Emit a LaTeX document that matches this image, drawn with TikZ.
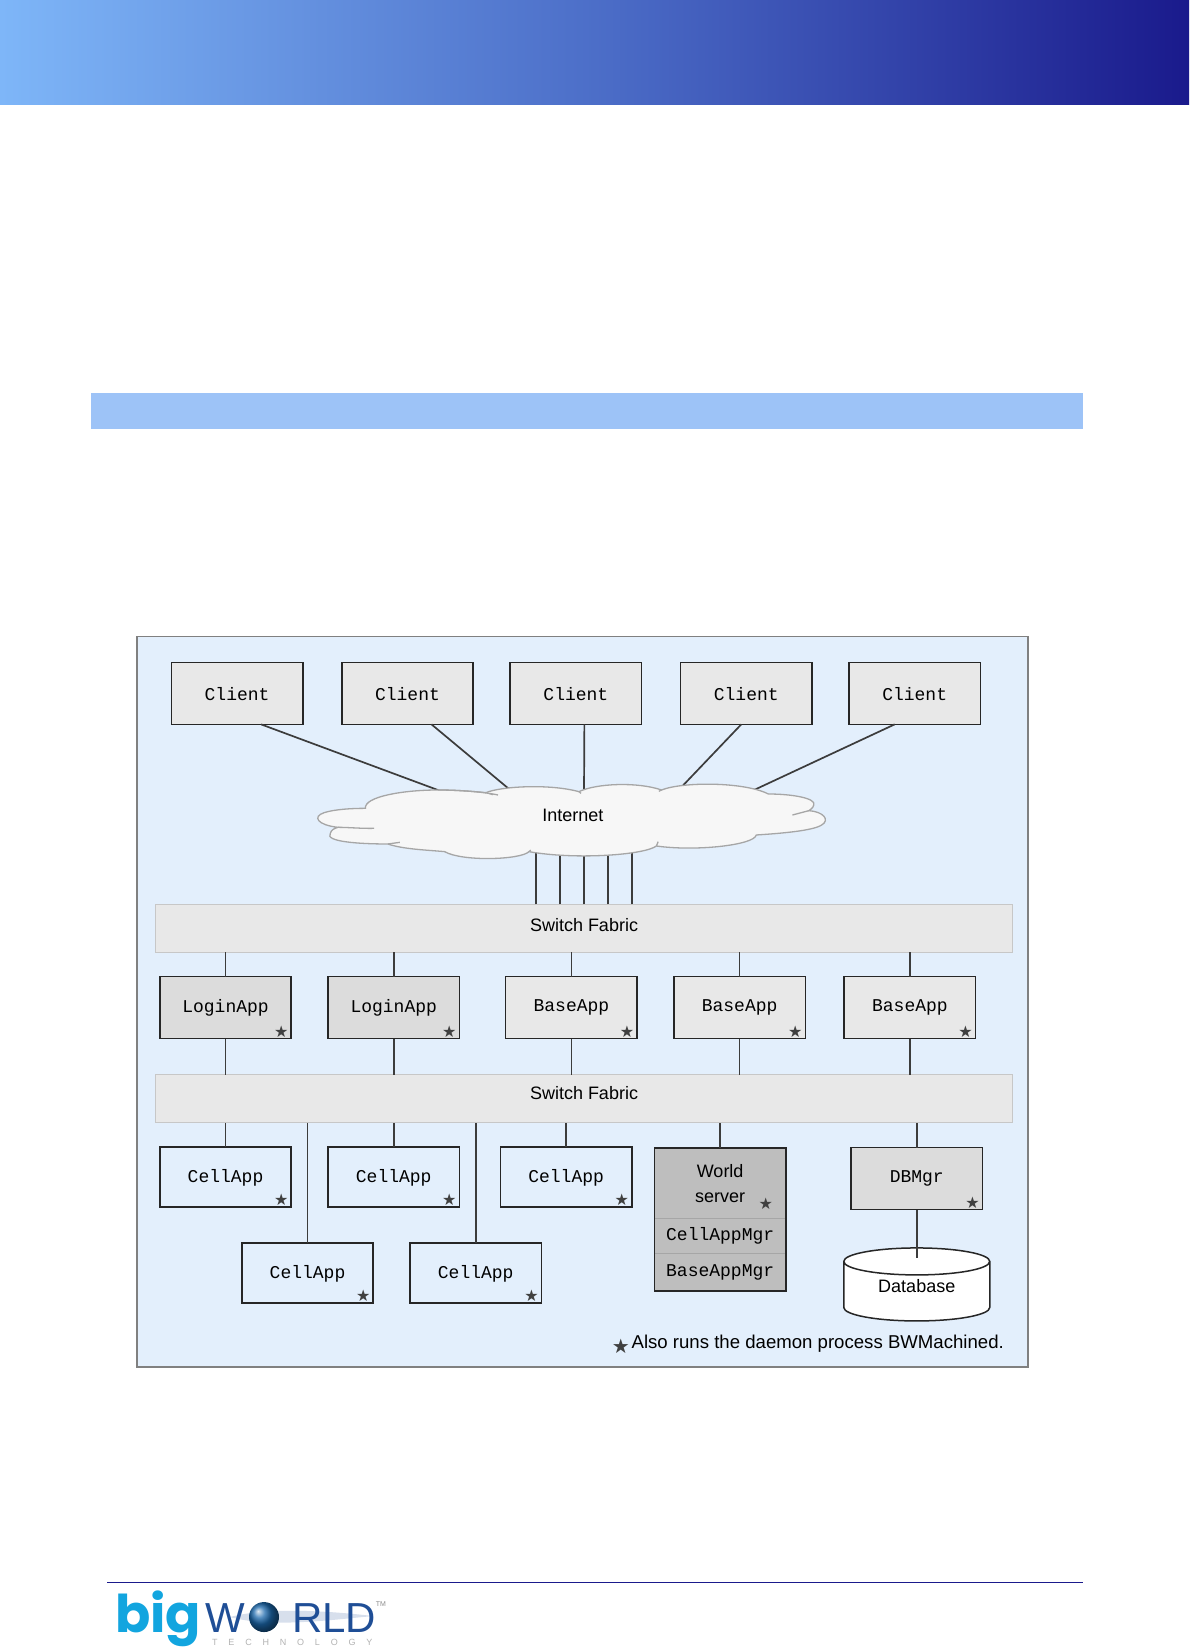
\documentclass[tikz,border=0pt]{standalone}
\usepackage{fontspec}
\setmainfont{Liberation Sans}
\newfontfamily\boxfont{Liberation Mono}
\newfontfamily\starfont{DejaVu Sans}
\newfontfamily\bigfont{Poppins}
\usetikzlibrary{positioning,shapes.geometric}
\definecolor{Panel}{HTML}{E3EFFC}
\definecolor{Band}{HTML}{9DC3F7}
\definecolor{Light}{HTML}{E8E8E8}
\definecolor{Mid}{HTML}{DCDCDC}
\definecolor{Dark}{HTML}{BEBEBE}
\definecolor{Wire}{HTML}{3C3C3C}
\definecolor{Navy}{HTML}{1A1A8C}
\definecolor{Sky}{HTML}{12A5DF}
\definecolor{Deep}{HTML}{1F4E96}
\newcommand{\starglyph}{{\starfont ★}}
\tikzset{
link/.style={draw=Wire,line width=1.7pt},
box/.style={draw=black!85,line width=1.5pt,fill=Light,minimum width=131.4pt,minimum height=62pt,inner sep=0pt,outer sep=0pt,font=\boxfont\fontsize{18}{20}\selectfont},
clientbox/.style={box,text height=15pt,text depth=0pt},
starmark/.style={anchor=center,inner sep=0pt,text=black!75,font=\fontsize{16}{16}\selectfont},
daemon/.style={label={[starmark,xshift=-10pt,yshift=7pt]south east:\starglyph}},
cellbox/.style={box,daemon,fill=Panel,minimum height=60pt,text height=15pt,text depth=4pt},
fabric/.style={draw=black!22,line width=1.5pt,fill=Light,minimum width=857pt,minimum height=48pt,inner sep=0pt,outer sep=0pt,text height=14pt,font=\fontsize{18}{20}\selectfont},
stack/.style={box,draw=none,fill=Dark}
}
\begin{document}
\begin{tikzpicture}[x=1.0513pt,y=-1.0513pt]
\useasboundingbox (0,0) rectangle (1131,1568.5);
\shade[right color=Navy,left color={rgb,255:red,126;green,182;blue,248},middle color={rgb,255:red,76;green,110;blue,200}] (0,0) rectangle (1131,99.5);
\fill[Band] (87,374) rectangle (1030,408);
\draw[draw=black!50,line width=1.8pt,fill=Panel] (130,605.5) rectangle (978,1300.5);
% clients
\node[clientbox] (client1) at (225.5,659.5) {Client};
\node[clientbox,right=39pt of client1] (client2) {Client};
\node[clientbox,right=37pt of client2] (client3) {Client};
\node[clientbox,right=39pt of client3] (client4) {Client};
\node[clientbox,right=37pt of client4] (client5) {Client};
\node[inner sep=0pt,font=\fontsize{18}{20}\selectfont] (internet) at (545,776) {};
\coordinate (net1) at (418,752);\coordinate (net2) at (486,752);\coordinate (net3) at (555.5,752);\coordinate (net4) at (645,752);\coordinate (net5) at (716,752);
\draw[link] ([xshift=24pt]client1.south) -- (net1);
\draw[link] ([xshift=24pt]client2.south) -- (net2);
\draw[link] ([xshift=8.5pt]client3.south) -- (net3);
\draw[link] ([xshift=-5pt]client4.south) -- (net4);
\draw[link] ([xshift=-20pt]client5.south) -- (net5);
% switches
\node[fabric,text depth=7.5pt] (switch1) at (555.5,883) {Switch Fabric};
\node[fabric,text depth=11.4pt] (switch2) at (555.5,1045) {Switch Fabric};
\draw[link] ([xshift=-48pt]switch1.north) -- ++(0,-55);\draw[link] ([xshift=-24pt]switch1.north) -- ++(0,-55);\draw[link] (switch1.north) -- ++(0,-55);\draw[link] ([xshift=24pt]switch1.north) -- ++(0,-55);\draw[link] ([xshift=48pt]switch1.north) -- ++(0,-55);
% cloud
\begin{scope}[shift={(285.4,732.4)},x=.3443pt,y=-.3333pt]
\draw[draw=black!35,line width=1.3pt,fill=white!97!black] (190,115) .. controls (185,80) and (300,60) .. (400,60) .. controls (450,60) and (500,64) .. (540,68) .. controls (580,50) and (720,40) .. (810,65) .. controls (860,40) and (980,35) .. (1050,60) .. controls (1110,35) and (1290,35) .. (1360,72) .. controls (1430,72) and (1500,85) .. (1492,105) .. controls (1490,115) and (1480,120) .. (1478,122) .. controls (1520,125) and (1540,150) .. (1515,165) .. controls (1490,182) and (1400,190) .. (1325,195) .. controls (1320,225) and (1150,245) .. (1035,228) .. controls (1000,255) and (800,270) .. (665,245) .. controls (640,270) and (470,275) .. (420,245) .. controls (370,240) and (300,238) .. (255,222) .. controls (170,222) and (70,215) .. (88,190) .. controls (90,180) and (100,175) .. (110,172) .. controls (50,165) and (35,140) .. (70,128) .. controls (100,118) and (150,115) .. cycle;
\draw[draw=black!35,line width=1.3pt] (400,60) .. controls (460,60) and (530,65) .. (575,75) (540,68) -- (560,74) (1050,60) -- (1042,64) (810,65) -- (816,70) (1478,122) -- (1430,135) (110,172) .. controls (140,172) and (180,176) .. (215,175) (255,222) -- (290,217) (1035,228) -- (1040,215) (665,245) -- (670,240);
\end{scope}
\node[font=\fontsize{18}{20}\selectfont] (netlabel) at (internet) {Internet};
% front end
\node[box,daemon,fill=Mid] (login1) at (214.5,958.5) {LoginApp};
\node[box,daemon,fill=Mid,right=36.8pt of login1] (login2) {LoginApp};
\node[box,daemon,right=46.3pt of login2] (base1) {BaseApp};
\node[box,daemon,right=36.8pt of base1] (base2) {BaseApp};
\node[box,daemon,right=38.9pt of base2] (base3) {BaseApp};
\draw[link] (login1.north) -- (login1.north |- switch1.south);\draw[link] (login2.north) -- (login2.north |- switch1.south);\draw[link] (base1.north) -- (base1.north |- switch1.south);\draw[link] (base2.north) -- (base2.north |- switch1.south);\draw[link] (base3.north) -- (base3.north |- switch1.south);
\draw[link] (login1.south) -- (login1.south |- switch2.north);\draw[link] (login2.south) -- (login2.south |- switch2.north);\draw[link] (base1.south) -- (base1.south |- switch2.north);\draw[link] (base2.south) -- (base2.south |- switch2.north);\draw[link] (base3.south) -- (base3.south |- switch2.north);
% back end
\node[cellbox] (cell1) at (214.5,1119.5) {CellApp};
\node[cellbox,right=36.8pt of cell1] (cell2) {CellApp};
\node[cellbox,right=41pt of cell2] (cell3) {CellApp};
\node[cellbox] (cell4) at (292.5,1211) {CellApp};
\node[cellbox,right=36.8pt of cell4] (cell5) {CellApp};
\draw[link] (cell1.north) -- (cell1.north |- switch2.south);\draw[link] (cell2.north) -- (cell2.north |- switch2.south);\draw[link] (cell3.north) -- (cell3.north |- switch2.south);\draw[link] (cell4.north) -- (cell4.north |- switch2.south);\draw[link] (cell5.north) -- (cell5.north |- switch2.south);
\node[stack,minimum height=70.4pt,font=\fontsize{18}{25}\selectfont,align=center,label={[starmark,xshift=-20pt,yshift=15pt]south east:\starglyph}] (world) at (685,1125.5) {World\\server};
\node[stack,minimum height=34.7pt,below=0pt of world] (cellmgr) {CellAppMgr};
\node[stack,minimum height=37.8pt,below=0pt of cellmgr] (basemgr) {BaseAppMgr};
\draw[draw=black!35,line width=1pt] (cellmgr.north west) -- (cellmgr.north east) (basemgr.north west) -- (basemgr.north east);
\draw[draw=black!85,line width=1.5pt] (world.north west) rectangle (basemgr.south east);
\draw[link] (world.north) -- (world.north |- switch2.south);
\node[box,daemon,fill=Mid] (dbmgr) at (872,1121) {DBMgr};
\draw[link] (dbmgr.north) -- (dbmgr.north |- switch2.south);
\node[cylinder,shape border rotate=90,aspect=.35,draw=black!85,line width=1.5pt,fill=white,minimum width=146pt,minimum height=73pt,inner sep=0pt,text height=14pt,text depth=12.6pt,font=\fontsize{18}{20}\selectfont] (db) at (872,1228.5) {Database};
\draw[link] (dbmgr.south) -- ([yshift=-11pt]db.north);
% footnote
\node[anchor=east,inner sep=0pt,font=\fontsize{18.6}{20}\selectfont] (note) at (955,1278) {Also runs the daemon process BWMachined.};
\node[starmark,font=\fontsize{20}{20}\selectfont] (notestar) at (590.5,1281) {\starglyph};
% footer
\draw[draw=Navy,line width=1pt] (102,1505.5) -- (1030,1505.5);
\begin{scope}[x=1pt,y=-1pt]
\fill[Deep!18] (230,1617) .. controls (270,1606) and (340,1612) .. (373,1616) .. controls (330,1620) and (270,1628) .. cycle;
\node[anchor=base west,inner sep=0pt,text=Sky,font=\bigfont\bfseries\fontsize{52}{56}\selectfont] (logobig) at (115,1632) {big};
\node[anchor=base west,inner sep=0pt,text=Deep,font=\fontsize{42}{44}\selectfont] (logow) at (205,1632) {W};
\node[anchor=base west,inner sep=0pt,text=Deep,font=\fontsize{42}{44}\selectfont] (logorld) at (292,1632) {RLD};
\shade[ball color=Deep!70!Sky] (264,1617) circle (15);
\node[anchor=base west,inner sep=0pt,text=black!30,font={\addfontfeature{LetterSpace=120}\fontsize{9}{10}\selectfont}] (logotech) at (212,1645) {TECHNOLOGY};
\node[anchor=center,inner sep=0pt,text=black!45,font=\fontsize{7}{8}\selectfont] (logotm) at (381,1604) {TM};
\end{scope}
\end{tikzpicture}
\end{document}
